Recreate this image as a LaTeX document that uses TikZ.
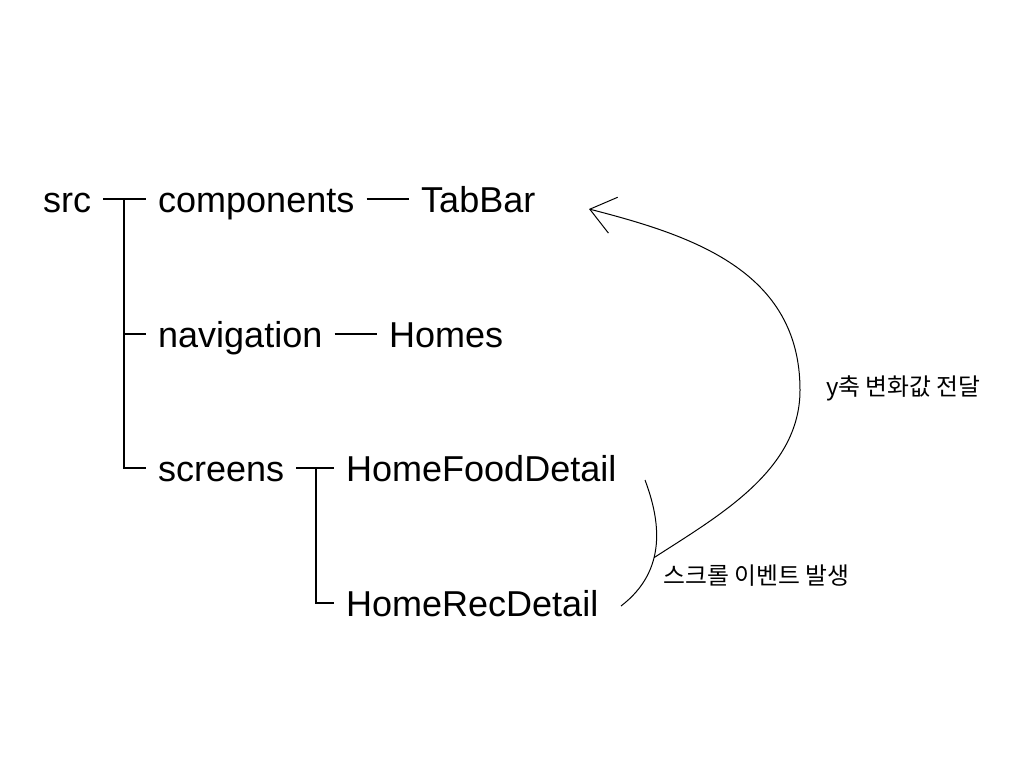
\documentclass[tikz,border=0pt]{standalone}
\usepackage{fontspec}
\setmainfont{Liberation Sans}
\newfontfamily\krfont{Noto Sans CJK KR}
\usetikzlibrary{arrows.meta}

\begin{document}
\begin{tikzpicture}[x=1pt, y=-1pt,
    every node/.style={font=\fontsize{36}{40}\selectfont},
    treenode/.style={anchor=west, inner xsep=12pt, inner ysep=0pt, text height=27pt, text depth=0pt},
    treeline/.style={line width=1.1pt},
    krlabel/.style={anchor=west, inner sep=0pt, font=\krfont\fontsize{23.8}{26}\selectfont}]
    \useasboundingbox[fill=white] (0,0) rectangle (1024,768);

    % folder tree
    \foreach \nm/\txt/\x/\y in {src/src/43/199, components/components/158/199, tabbar/TabBar/421/199,
        navigation/navigation/158/334, homes/Homes/389/334,
        screens/screens/158/468, fooddetail/HomeFoodDetail/346/468, recdetail/HomeRecDetail/346/603} {
        \node[treenode] (\nm) at (\x-12, \y) {\txt};
    }

    \coordinate (trunk) at (124,199);
    \coordinate (subtrunk) at (316,468);
    \draw[treeline] (src.east) -- (components.west);
    \draw[treeline] (trunk) |- (navigation.west);
    \draw[treeline] (trunk) |- (screens.west);
    \draw[treeline] (components.east) -- (tabbar.west);
    \draw[treeline] (navigation.east) -- (homes.west);
    \draw[treeline] (screens.east) -- (fooddetail.west);
    \draw[treeline] (subtrunk) |- (recdetail.west);

    % scroll event -> y offset
    \draw[line width=1pt] (645,480) .. controls (660,520) and (668,570) .. (621,606)
        coordinate[pos=0.6] (junc);
    \coordinate (tip) at (589,209);
    \draw[line width=1pt, -{Straight Barb[length=24pt, width=37pt]}]
        (junc) .. controls (720,515) and (800,470) .. (800,390)
        .. controls (800,270) and (690,235) .. (tip);

    \node[krlabel] (scrollevt) at (663,576) {스크롤 이벤트 발생};
    \node[krlabel] (ydelta) at (826,388) {y축 변화값 전달};
\end{tikzpicture}
\end{document}
